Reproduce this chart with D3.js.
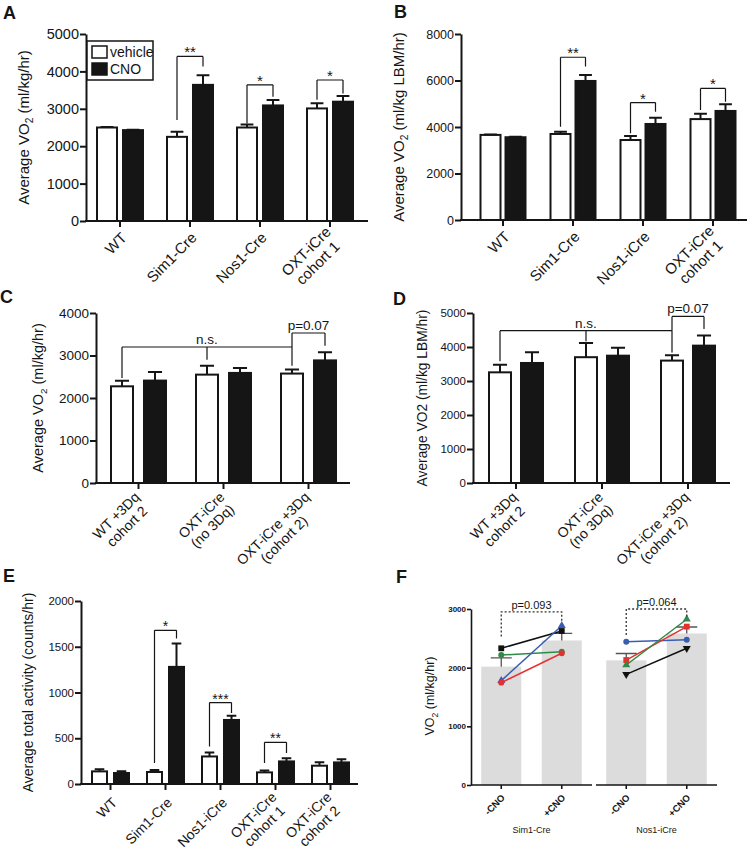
<!DOCTYPE html>
<html><head><meta charset="utf-8">
<script src="https://cdn.jsdelivr.net/npm/d3@7"></script>
<style>
body{margin:0;background:#fff}
svg{display:block}
text{font-family:"Liberation Sans",Arial,Helvetica,sans-serif;fill:#151515}
</style>
</head><body>
<svg id="chart" width="750" height="853"></svg>
<script>
// ---------- DATA ----------
const series = ["vehicle", "CNO"];

// Panel A: Average VO2 (ml/kg/hr)
const catsA = ["WT", "Sim1-Cre", "Nos1-Cre", "OXT-iCre\ncohort 1"];
const vehA = [2500, 2250, 2500, 3010];
const vehSemA = [12, 135, 80, 140];
const cnoA = [2430, 3640, 3090, 3190];
const cnoSemA = [10, 260, 145, 150];
const ticksA = [0, 1000, 2000, 3000, 4000, 5000];
const sigA = [
  {legs: [[1, 0, 2700], [1, 1, 4130]], top: 4400, label: "**"},
  {legs: [[2, 0, 2610], [2, 1, 3320]], top: 3640, label: "*"},
  {legs: [[3, 0, 3240], [3, 1, 3410]], top: 3770, label: "*"}
];

// Panel B: Average VO2 (ml/kg LBM/hr)
const catsB = ["WT", "Sim1-Cre", "Nos1-iCre", "OXT-iCre\ncohort 1"];
const vehB = [3660, 3700, 3440, 4340];
const vehSemB = [20, 100, 170, 230];
const cnoB = [3560, 5980, 4130, 4690];
const cnoSemB = [20, 260, 270, 290];
const ticksB = [0, 2000, 4000, 6000, 8000];
const sigB = [
  {legs: [[1, 0, 4010], [1, 1, 6600]], top: 7000, label: "**"},
  {legs: [[2, 0, 3730], [2, 1, 4660]], top: 5050, label: "*"},
  {legs: [[3, 0, 4730], [3, 1, 5090]], top: 5660, label: "*"}
];

// Panel C: Average VO2 (ml/kg/hr)
const catsC = ["WT +3Dq\ncohort 2", "OXT-iCre\n(no 3Dq)", "OXT-iCre +3Dq\n(cohort 2)"];
const vehC = [2275, 2550, 2575];
const vehSemC = [130, 210, 95];
const cnoC = [2410, 2590, 2885];
const cnoSemC = [200, 115, 190];
const ticksC = [0, 1000, 2000, 3000, 4000];
const sigC = [
  {legs: [[0, 0, 2470], [1, 0, 2900], [2, 0, 2760]], top: 3200, label: "n.s."},
  {legs: [[2, 0, 3200], [2, 1, 3230]], top: 3530, label: "p=0.07"}
];

// Panel D: Average VO2 (ml/kg LBM/hr)
const catsD = ["WT +3Dq\ncohort 2", "OXT-iCre\n(no 3Dq)", "OXT-iCre +3Dq\n(cohort 2)"];
const vehD = [3255, 3700, 3600];
const vehSemD = [225, 420, 155];
const cnoD = [3530, 3745, 4040];
const cnoSemD = [315, 235, 295];
const ticksD = [0, 1000, 2000, 3000, 4000, 5000];
const sigD = [
  {legs: [[0, 0, 3580], [1, 0, 4170], [2, 0, 3840]], top: 4480, label: "n.s."},
  {legs: [[2, 0, 4480], [2, 1, 4530]], top: 4900, label: "p=0.07"}
];

// Panel E: Average total activity (counts/hr)
const catsE = ["WT", "Sim1-Cre", "Nos1-iCre", "OXT-iCre\ncohort 1", "OXT-iCre\ncohort 2"];
const vehE = [138, 131, 301, 127, 200];
const vehSemE = [22, 22, 42, 20, 38];
const cnoE = [120, 1280, 700, 247, 236];
const cnoSemE = [18, 255, 45, 35, 35];
const ticksE = [0, 500, 1000, 1500, 2000];
const sigE = [
  {legs: [[1, 0, 230], [1, 1, 1590]], top: 1680, label: "*"},
  {legs: [[2, 0, 410], [2, 1, 775]], top: 890, label: "***"},
  {legs: [[3, 0, 230], [3, 1, 340]], top: 455, label: "**"}
];

// Panel F: individual VO2 (ml/kg/hr)
const groupsF = ["Sim1-Cre", "Nos1-iCre"];
const condsF = ["-CNO", "+CNO"];
const sim1MinusF = [2330, 2215, 1780, 1745];
const sim1PlusF = [2625, 2270, 2715, 2245];
const sim1ColorsF = ["#111111", "#2f8a45", "#3a5cb3", "#e63030"];
const sim1ShapesF = ["square", "circle", "triangle", "circle"];
const nos1MinusF = [2440, 2130, 2045, 1885];
const nos1PlusF = [2475, 2700, 2825, 2330];
const nos1ColorsF = ["#3a5cb3", "#e63030", "#2f8a45", "#111111"];
const nos1ShapesF = ["circle", "square", "triangle", "triangleDown"];
const ticksF = [0, 1000, 2000, 3000];
const sigF = [
  {legs: [2530, 2780], top: 2950, label: "p=0.093"},
  {legs: [2555, 2865], top: 3000, label: "p=0.064"}
];

// ---------- DRAWING ----------
const svg = d3.select("#chart");
svg.append("rect").attr("width", 750).attr("height", 853).attr("fill", "#fff");
const FONT = '"Liberation Sans", Arial, Helvetica, sans-serif';
const INK = "#151515";
const fills = {vehicle: "#ffffff", CNO: "#151515"};

function letter(txt, x, y) {
  svg.append("text").attr("x", x).attr("y", y).text(txt)
    .style("font-size", "18px").style("font-weight", "bold");
}

function yTitle(g, x, y, parts, size) {
  const t = g.append("text")
    .attr("transform", `translate(${x},${y}) rotate(-90)`)
    .attr("text-anchor", "middle").attr("dy", "0.35em")
    .style("font-size", size + "px");
  const sh = size * 0.28;
  parts.forEach(([s, sub], i) => {
    const ts = t.append("tspan").text(s);
    if (sub) ts.attr("dy", sh).style("font-size", (size * 0.68) + "px");
    else if (i > 0 && parts[i - 1][1]) ts.attr("dy", -sh);
  });
}

function catLabel(g, x, y, lines, size, weight) {
  const lg = g.append("g").attr("transform", `translate(${x},${y}) rotate(-45)`);
  const texts = lines.map(s => lg.append("text").text(s)
    .style("font-size", size + "px").style("font-weight", weight || "normal"));
  const W = d3.max(texts, t => t.node().getComputedTextLength());
  const lh = size * 1.1, n = lines.length;
  texts.forEach((t, i) => t.attr("text-anchor", "middle").attr("x", -W / 2)
    .attr("y", (i - (n - 1) / 2) * lh).attr("dy", "0.35em"));
}

function barPanel(cfg, cats, veh, vehSem, cno, cnoSem, ticks, sig) {
  const g = svg.append("g");
  const y = d3.scaleLinear().domain([0, cfg.yMax]).range([cfg.yBot, cfg.yTop]);
  const x = d3.scaleBand().domain(cats).range(cfg.band);
  const half = cfg.barW + cfg.gap / 2;
  const xs = d3.scaleBand().domain(series).range([-half, half])
    .paddingInner(cfg.gap / (cfg.barW + cfg.gap));
  const gc = i => x(cats[i]) + x.bandwidth() / 2;
  const cx = (i, s) => gc(i) + xs(series[s]) + xs.bandwidth() / 2;
  const vals = [veh, cno], sems = [vehSem, cnoSem];

  series.forEach((s, si) => {
    g.selectAll(null).data(vals[si]).join("rect")
      .attr("x", (d, i) => gc(i) + xs(s))
      .attr("y", d => y(d))
      .attr("width", xs.bandwidth())
      .attr("height", d => y(0) - y(d))
      .attr("fill", fills[s]).attr("stroke", INK).attr("stroke-width", 2);
    g.selectAll(null).data(vals[si]).join("path")
      .attr("d", (d, i) => {
        const c = cx(i, si), y0 = y(d), y1 = y(d + sems[si][i]), w = cfg.barW * 0.32;
        return `M${c},${y0}V${y1}M${c - w},${y1}H${c + w}`;
      })
      .attr("fill", "none").attr("stroke", INK).attr("stroke-width", 2);
  });

  // y axis
  const yg = g.append("g").attr("transform", `translate(${cfg.axisX},0)`)
    .call(d3.axisLeft(y).tickValues(ticks).tickSize(6).tickSizeOuter(0).tickPadding(1)
      .tickFormat(d3.format("d")));
  yg.attr("font-family", FONT).attr("font-size", cfg.tickSize);
  yg.select(".domain").attr("stroke", INK).attr("stroke-width", 2);
  yg.selectAll(".tick line").attr("stroke", INK).attr("stroke-width", 2);
  yg.selectAll(".tick text").attr("fill", INK);

  // x axis
  const xg = g.append("g").attr("transform", `translate(0,${cfg.yBot})`)
    .call(d3.axisBottom(x).tickSize(6).tickFormat(""));
  xg.select(".domain").remove();
  xg.selectAll(".tick line").attr("stroke", INK).attr("stroke-width", 2);
  g.append("line").attr("x1", cfg.axisX - 1).attr("x2", cfg.xEnd)
    .attr("y1", cfg.yBot).attr("y2", cfg.yBot).attr("stroke", INK).attr("stroke-width", 2);

  cats.forEach((c, i) => catLabel(g, gc(i) + cfg.catDx, cfg.yBot + cfg.catDy, c.split("\n"), cfg.catSize));

  // significance brackets
  sig.forEach(b => {
    const xsL = b.legs.map(l => cx(l[0], l[1]));
    let d = b.legs.map(l => `M${cx(l[0], l[1])},${y(l[2])}V${y(b.top)}`).join("");
    d += `M${d3.min(xsL)},${y(b.top)}H${d3.max(xsL)}`;
    g.append("path").attr("d", d).attr("fill", "none").attr("stroke", INK).attr("stroke-width", 1.2);
    const star = /^\*+$/.test(b.label);
    const mx = b.legs.length > 2 ? xsL[1] : d3.mean(xsL);
    g.append("text").attr("x", mx).attr("y", y(b.top) - (star ? -1 : 3))
      .attr("text-anchor", "middle").style("font-size", (star ? cfg.sigSize + 1 : cfg.sigSize) + "px")
      .text(b.label);
  });

  yTitle(g, cfg.labelX, (cfg.yTop + cfg.yBot) / 2 + cfg.labelDy, cfg.title, cfg.labelSize);
  return g;
}

// Panel A
const gA = barPanel({axisX: 86, xEnd: 368, yTop: 34, yBot: 221, yMax: 5000, band: [85, 365],
  barW: 20, gap: 6, tickSize: 14.5, labelSize: 15, catSize: 15, sigSize: 14, labelX: 24, labelDy: 0,
  catDx: 4, catDy: 14,
  title: [["Average VO", false], ["2", true], [" (ml/kg/hr)", false]]},
  catsA, vehA, vehSemA, cnoA, cnoSemA, ticksA, sigA);
// legend
const lg = gA.append("g");
lg.append("rect").attr("x", 87).attr("y", 41).attr("width", 66).attr("height", 39)
  .attr("fill", "#fff").attr("stroke", INK).attr("stroke-width", 1.5);
series.forEach((s, i) => {
  lg.append("rect").attr("x", 92).attr("y", 46 + i * 17).attr("width", 15).attr("height", 12)
    .attr("fill", fills[s]).attr("stroke", INK).attr("stroke-width", 1.5);
  lg.append("text").attr("x", 110).attr("y", 57 + i * 17).text(s).style("font-size", "14px");
});

// Panel B
barPanel({axisX: 461, xEnd: 747, yTop: 34, yBot: 220, yMax: 8000, band: [468, 748],
  barW: 20, gap: 5, tickSize: 12.5, labelSize: 15, catSize: 15, sigSize: 14, labelX: 399, labelDy: 0,
  catDx: 4, catDy: 14,
  title: [["Average VO", false], ["2", true], ["  (ml/kg LBM/hr)", false]]},
  catsB, vehB, vehSemB, cnoB, cnoSemB, ticksB, sigB);

// Panel C
barPanel({axisX: 96, xEnd: 350, yTop: 313, yBot: 483, yMax: 4000, band: [96, 351],
  barW: 22, gap: 11, tickSize: 13.5, labelSize: 14.5, catSize: 14, sigSize: 13.5, labelX: 38, labelDy: 0,
  catDx: 4, catDy: 17,
  title: [["Average VO", false], ["2", true], [" (ml/kg/hr)", false]]},
  catsC, vehC, vehSemC, cnoC, cnoSemC, ticksC, sigC);

// Panel D
barPanel({axisX: 473, xEnd: 730, yTop: 313, yBot: 483, yMax: 5000, band: [473, 731],
  barW: 22, gap: 10, tickSize: 11.5, labelSize: 13.8, catSize: 14, sigSize: 13.5, labelX: 422, labelDy: 0,
  catDx: 4, catDy: 17,
  title: [["Average VO2 (ml/kg LBM/hr)", false]]},
  catsD, vehD, vehSemD, cnoD, cnoSemD, ticksD, sigD);

// Panel E
barPanel({axisX: 81, xEnd: 358, yTop: 601, yBot: 784, yMax: 2000, band: [83, 358],
  barW: 15, gap: 7, tickSize: 11.5, labelSize: 14, catSize: 14, sigSize: 13, labelX: 28, labelDy: 0,
  catDx: 4, catDy: 16,
  title: [["Average total activity (counts/hr)", false]]},
  catsE, vehE, vehSemE, cnoE, cnoSemE, ticksE, sigE);

// Panel F
(function () {
  const g = svg.append("g");
  const y = d3.scaleLinear().domain([0, 3000]).range([785, 609]);
  const gx = d3.scaleBand().domain(groupsF).range([471, 717]).paddingInner(0.032);
  const cxs = d3.scalePoint().domain(condsF).range([0, gx.bandwidth()]).padding(0.5);
  const data = [
    {minus: sim1MinusF, plus: sim1PlusF, colors: sim1ColorsF, shapes: sim1ShapesF},
    {minus: nos1MinusF, plus: nos1PlusF, colors: nos1ColorsF, shapes: nos1ShapesF}
  ];
  const sym = {square: d3.symbolSquare, circle: d3.symbolCircle, triangle: d3.symbolTriangle, triangleDown: d3.symbolTriangle};
  const px = (gi, ci) => gx(groupsF[gi]) + cxs(condsF[ci]);
  const sem = a => d3.deviation(a) / Math.sqrt(a.length);

  data.forEach((dd, gi) => {
    const sets = [dd.minus, dd.plus];
    sets.forEach((vals, ci) => {
      const m = d3.mean(vals);
      g.append("rect").attr("x", px(gi, ci) - 20).attr("width", 40)
        .attr("y", y(m)).attr("height", y(0) - y(m)).attr("fill", "#dcdcdc");
    });
    sets.forEach((vals, ci) => {
      const m = d3.mean(vals), e = m + sem(vals), c = px(gi, ci);
      g.append("path").attr("d", `M${c},${y(m)}V${y(e)}M${c - 10.5},${y(e)}H${c + 10.5}`)
        .attr("fill", "none").attr("stroke", "#555").attr("stroke-width", 1.3);
    });
    dd.minus.forEach((v, k) => {
      g.append("line").attr("x1", px(gi, 0)).attr("x2", px(gi, 1))
        .attr("y1", y(v)).attr("y2", y(dd.plus[k]))
        .attr("stroke", dd.colors[k]).attr("stroke-width", 1.5);
    });
    dd.minus.forEach((v, k) => {
      [v, dd.plus[k]].forEach((val, ci) => {
        g.append("path").attr("d", d3.symbol(sym[dd.shapes[k]], dd.shapes[k] === "square" ? 34 : 28)())
          .attr("transform", `translate(${px(gi, ci)},${y(val)})` + (dd.shapes[k] === "triangleDown" ? " rotate(180)" : ""))
          .attr("fill", dd.colors[k]);
      });
    });
    const b = sigF[gi];
    g.append("path").attr("d",
      `M${px(gi, 0)},${y(b.legs[0])}V${y(b.top)}H${px(gi, 1)}V${y(b.legs[1])}`)
      .attr("fill", "none").attr("stroke", "#333").attr("stroke-width", 1.3).attr("stroke-dasharray", "2,2");
    g.append("text").attr("x", (px(gi, 0) + px(gi, 1)) / 2).attr("y", y(b.top) - 3)
      .attr("text-anchor", "middle").style("font-size", "11px").text(b.label);
    g.append("line").attr("x1", gx(groupsF[gi])).attr("x2", gx(groupsF[gi]) + gx.bandwidth())
      .attr("y1", y(0)).attr("y2", y(0)).attr("stroke", INK).attr("stroke-width", 1.6);
    condsF.forEach((c, ci) => {
      g.append("line").attr("x1", px(gi, ci)).attr("x2", px(gi, ci))
        .attr("y1", y(0)).attr("y2", y(0) + 4).attr("stroke", INK).attr("stroke-width", 1.6);
      catLabel(g, px(gi, ci) + 2, y(0) + 11, [c], 9.5, "bold");
    });
    g.append("text").attr("x", gx(groupsF[gi]) + gx.bandwidth() / 2).attr("y", 833)
      .attr("text-anchor", "middle").style("font-size", "9px").text(groupsF[gi]);
  });

  const yg = g.append("g").attr("transform", "translate(471,0)")
    .call(d3.axisLeft(y).tickValues(ticksF).tickSize(4).tickSizeOuter(0).tickPadding(1).tickFormat(d3.format("d")));
  yg.attr("font-family", FONT).attr("font-size", 8).attr("font-weight", "bold");
  yg.select(".domain").attr("stroke", INK).attr("stroke-width", 1.6);
  yg.selectAll(".tick line").attr("stroke", INK).attr("stroke-width", 1.6);
  yg.selectAll(".tick text").attr("fill", INK);
  yTitle(g, 430, 696, [["VO", false], ["2", true], [" (ml/kg/hr)", false]], 12.5);
})();

letter("A", 3, 19);
letter("B", 394, 18);
letter("C", 0, 303);
letter("D", 393, 305);
letter("E", 3, 582);
letter("F", 396, 583);
</script>
</body></html>
